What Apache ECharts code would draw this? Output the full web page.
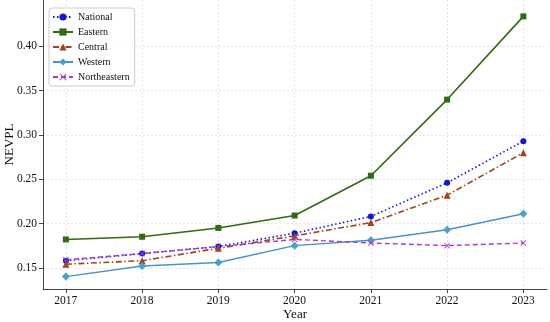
<!DOCTYPE html>
<html><head><meta charset="utf-8">
<script src="https://cdn.jsdelivr.net/npm/echarts@6/dist/echarts.min.js"></script>
<style>html,body{margin:0;padding:0;background:#fff}#c{width:550px;height:322px}</style>
</head><body><div id="c"></div>
<script>
const years = [2017, 2018, 2019, 2020, 2021, 2022, 2023];
const national = [0.158, 0.166, 0.174, 0.189, 0.208, 0.246, 0.293];
const eastern = [0.182, 0.185, 0.195, 0.209, 0.254, 0.340, 0.434];
const central = [0.154, 0.158, 0.172, 0.186, 0.201, 0.232, 0.280];
const western = [0.140, 0.152, 0.156, 0.175, 0.181, 0.193, 0.211];
const northeastern = [0.159, 0.166, 0.174, 0.182, 0.178, 0.175, 0.178];
const yTicks = [0.15, 0.20, 0.25, 0.30, 0.35, 0.40];

const font = 'Liberation Serif';
const xSym = 'path://M0,1L1,0L5,4L9,0L10,1L6,5L10,9L9,10L5,6L1,10L0,9L4,5Z';

function mk(name, data, color, ltype, symbol, size, width, symColor) {
  return {
    name, type: 'line', data: years.map((y, i) => [y, data[i]]),
    symbol, symbolSize: size, showSymbol: true,
    lineStyle: { color, width: width, type: ltype },
    itemStyle: { color: symColor || color },
    emphasis: { disabled: true }, z: 3
  };
}

const chart = echarts.init(document.getElementById('c'), null, { renderer: 'canvas' });
chart.setOption({
  animation: false,
  backgroundColor: '#fff',
  textStyle: { fontFamily: font },
  grid: { left: 43, right: 3, top: 0, bottom: 33, containLabel: false, outerBoundsMode: 'none' },
  legend: {
    orient: 'vertical', left: 49, top: 8,
    itemWidth: 20, itemHeight: 9, itemGap: 5,
    padding: [4, 5, 4, 3],
    backgroundColor: 'rgba(255,255,255,0.9)',
    borderColor: '#cccccc', borderWidth: 1, borderRadius: 3,
    textStyle: { fontFamily: font, fontSize: 10, color: '#111' },
    data: ['National', 'Eastern', 'Central', 'Western', 'Northeastern']
  },
  xAxis: {
    type: 'value', min: 2016.7, max: 2023.31,
    name: 'Year', nameLocation: 'middle', nameGap: 19, nameMoveOverlap: false,
    nameTextStyle: { fontFamily: font, fontSize: 13, color: '#111', verticalAlign: 'top' },
    axisLine: { show: true, lineStyle: { color: '#444', width: 1 } },
    axisTick: { show: true, length: 4, lineStyle: { color: '#444' }, customValues: years },
    axisLabel: { fontFamily: font, fontSize: 11.5, color: '#111', margin: 6, customValues: years, formatter: v => String(v) },
    splitLine: { show: true, lineStyle: { color: '#dddddd', type: [2, 2], width: 0.8 } }
  },
  yAxis: {
    type: 'value', min: 0.126, max: 0.4525,
    name: 'NEVPL', nameLocation: 'middle', nameGap: 27, nameMoveOverlap: false,
    nameTextStyle: { fontFamily: font, fontSize: 13, color: '#111' },
    axisLine: { show: true, lineStyle: { color: '#444', width: 1 } },
    axisTick: { show: true, length: 4, lineStyle: { color: '#444' }, customValues: yTicks },
    axisLabel: { fontFamily: font, fontSize: 11.5, color: '#111', margin: 6, customValues: yTicks, formatter: v => v.toFixed(2) },
    splitLine: { show: true, lineStyle: { color: '#dddddd', type: [2, 2], width: 0.8 } }
  },
  series: [
    mk('National', national, '#1414dc', [1.5, 2.5], 'circle', 6, 1.6),
    mk('Eastern', eastern, '#2f6b12', 'solid', 'rect', 6, 1.6),
    mk('Central', central, '#a3431c', [6, 2.5, 1.5, 2.5], 'triangle', 7, 1.6),
    mk('Western', western, '#4a92c4', 'solid', 'diamond', 8, 1.4, '#45a2c9'),
    mk('Northeastern', northeastern, '#a440c8', [5, 3], xSym, 6, 1.4)
  ]
});
</script></body></html>
